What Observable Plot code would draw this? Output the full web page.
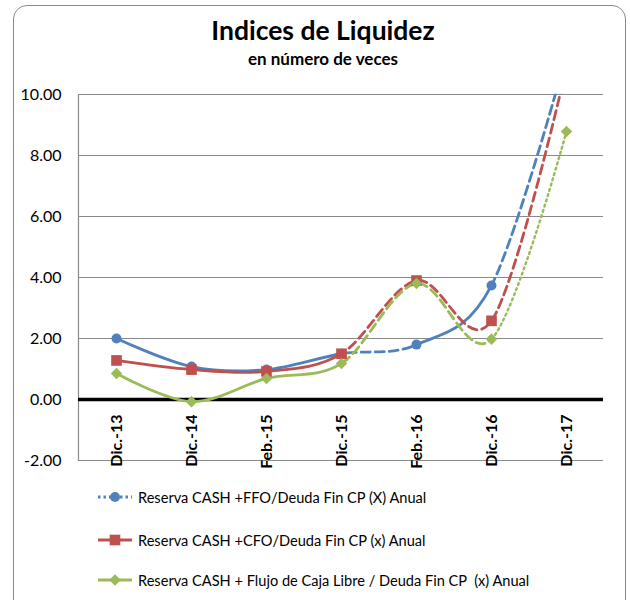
<!DOCTYPE html>
<html><head><meta charset="utf-8">
<script src="https://cdn.jsdelivr.net/npm/d3@7"></script>
<script src="https://cdn.jsdelivr.net/npm/@observablehq/plot@0.6"></script>
<style>
html,body{margin:0;padding:0;background:#fff;}
#page{position:relative;width:630px;height:600px;overflow:hidden;font-family:Lato,"Open Sans",sans-serif;color:#000;}
#frame{position:absolute;left:13px;top:5px;width:613px;height:640px;border:1.3px solid #8a8a8a;border-radius:14px;box-sizing:border-box;}
#title{position:absolute;left:0;width:646px;top:14px;text-align:center;font-weight:bold;font-size:26.5px;}
#subtitle{position:absolute;left:0;width:646px;top:48px;text-align:center;font-weight:bold;font-size:17px;}
#chart{position:absolute;left:0;top:80px;}
.leg{position:absolute;left:97px;height:20px;display:flex;align-items:center;font-size:14.6px;white-space:pre;}
.leg svg{margin-right:5px;}
</style></head>
<body><div id="page"><div id="frame"></div><div id="title"></div><div id="subtitle"></div><div id="chart"></div><div id="legend"></div></div>
<script>
const titleText = "Indices de Liquidez";
const subtitleText = "en número de veces";
const categories = ["Dic.-13","Dic.-14","Feb.-15","Dic.-15","Feb.-16","Dic.-16","Dic.-17"];
const seriesNames = [
  "Reserva CASH +FFO/Deuda Fin CP (X) Anual",
  "Reserva CASH +CFO/Deuda Fin CP (x) Anual",
  "Reserva CASH + Flujo de Caja Libre / Deuda Fin CP  (x) Anual"
];
const ffoValues = [2.0, 1.08, 0.98, 1.5, 1.8, 3.74, 11.3];
const cfoValues = [1.28, 0.98, 0.92, 1.5, 3.9, 2.58, 10.9];
const fclValues = [0.85, -0.07, 0.69, 1.18, 3.8, 1.98, 8.79];
// line style of each interval between consecutive categories
const ffoStyles = ["solid","solid","solid","dashed","solid","dashed"];
const cfoStyles = ["solid","solid","solid","dashed","dashed","dashed"];
const fclStyles = ["solid","solid","solid","dashed","dashed","dotted"];
const colors = ["#4F81BD","#C0504D","#9BBB59"];
const symbols = ["circle","square","diamond2"];
const yTicks = [-2, 0, 2, 4, 6, 8, 10];

const dashes = {solid: null, dashed: "9,5", dotted: "2,3.5"};
const allValues = [ffoValues, cfoValues, fclValues];
const allStyles = [ffoStyles, cfoStyles, fclStyles];

document.getElementById("title").textContent = titleText;
document.getElementById("subtitle").textContent = subtitleText;

const W = 630, H = 400, mT = 14, mB = 20, mL = 78, mR = 27;
const rows = allValues.map((vals, s) => vals.map((v, i) => ({cat: categories[i], v, s})));

const marks = [
  Plot.ruleY(yTicks.filter(d => d !== 0), {stroke: "#8a8a8a", strokeWidth: 1.2}),
  Plot.frame({anchor: "left", stroke: "#8a8a8a", strokeWidth: 1.2}),
  Plot.ruleY([0], {stroke: "#000", strokeWidth: 3.5}),
  Plot.axisY({ticks: yTicks, tickFormat: d => d.toFixed(2), tickSize: 0, tickPadding: 17, fontSize: 16, fontFamily: "Lato", fill: "#000", label: null}),
  Plot.text(categories, {x: d => d, y: () => 0, text: d => d, rotate: -90, textAnchor: "end", dy: 15, fontSize: 16, fontWeight: "bold", fontFamily: "Lato", fill: "#000"})
];
rows.forEach((r, s) => {
  const styles = Array.from(new Set(allStyles[s]));
  styles.forEach(st => {
    marks.push(Plot.line(r, {x: "cat", y: "v", stroke: colors[s], strokeWidth: st === "dotted" ? 2.4 : 2.8, strokeDasharray: dashes[st], curve: "cardinal", ariaDescription: `seg-${s}-${st}`}));
  });
});
rows.forEach((r, s) => {
  marks.push(Plot.dot(r, {x: "cat", y: "v", fill: colors[s], stroke: "none", symbol: () => symbols[s], r: [5, 6, 5.2][s], clip: true}));
});

const plot = Plot.plot({
  width: W, height: H, marginTop: mT, marginBottom: mB, marginLeft: mL, marginRight: mR,
  x: {type: "point", domain: categories, padding: 0.5, axis: null},
  y: {domain: [-2, 10], axis: null},
  style: {background: "transparent", overflow: "visible"},
  symbol: {type: "identity"},
  marks
});
document.getElementById("chart").appendChild(plot);

// clip each styled copy to the intervals it owns
const xs = plot.scale("x");
const xpos = c => xs.apply(c);
const svg = plot.tagName.toLowerCase() === "svg" ? plot : plot.querySelector("svg");
const ns = "http://www.w3.org/2000/svg";
const defs = document.createElementNS(ns, "defs");
svg.insertBefore(defs, svg.firstChild);
allStyles.forEach((stylesArr, s) => {
  Array.from(new Set(stylesArr)).forEach(st => {
    const id = `clip-${s}-${st}`;
    const cp = document.createElementNS(ns, "clipPath");
    cp.setAttribute("id", id);
    stylesArr.forEach((sty, i) => {
      if (sty !== st) return;
      let x0 = xpos(categories[i]), x1 = xpos(categories[i + 1]);
      if (i === 0) x0 -= 6;
      if (i === stylesArr.length - 1) x1 += 6;
      const rc = document.createElementNS(ns, "rect");
      rc.setAttribute("x", x0); rc.setAttribute("width", x1 - x0);
      rc.setAttribute("y", mT - 1); rc.setAttribute("height", H - mT - mB + 8);
      cp.appendChild(rc);
    });
    defs.appendChild(cp);
    const g = svg.querySelector(`[aria-description="seg-${s}-${st}"]`);
    if (g) g.setAttribute("clip-path", `url(#${id})`);
  });
});

// legend
const legendY = [487, 530, 570];
const legendDash = ["2.5,3", null, null];
const legend = document.getElementById("legend");
seriesNames.forEach((name, s) => {
  const div = document.createElement("div");
  div.className = "leg";
  div.style.top = legendY[s] + "px";
  const sw = d3.create("svg").attr("width", 36).attr("height", 20);
  sw.append("line").attr("x1", 1).attr("x2", 35).attr("y1", 10).attr("y2", 10)
    .attr("stroke", colors[s]).attr("stroke-width", 3).attr("stroke-dasharray", legendDash[s]);
  const sym = {circle: d3.symbolCircle, square: d3.symbolSquare, diamond2: d3.symbolDiamond2}[symbols[s]];
  const size = [Math.PI * 25, Math.PI * 36, Math.PI * 27][s];
  sw.append("path").attr("d", d3.symbol(sym, size)()).attr("transform", "translate(18,10)").attr("fill", colors[s]);
  div.appendChild(sw.node());
  const sp = document.createElement("span");
  sp.textContent = name;
  div.appendChild(sp);
  legend.appendChild(div);
});
</script>
</body></html>
